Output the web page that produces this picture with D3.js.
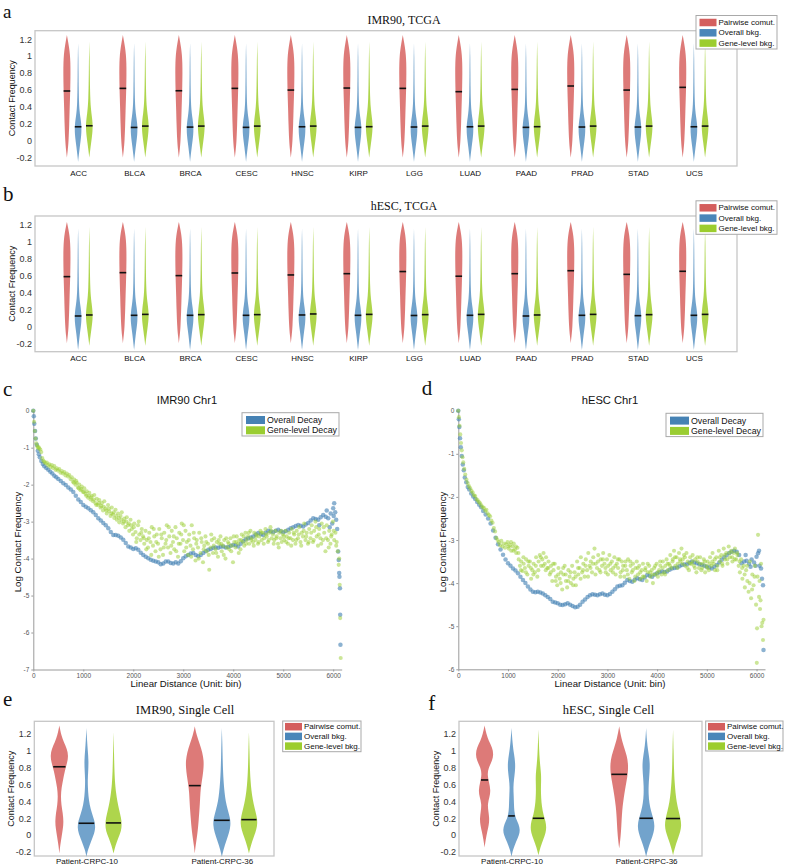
<!DOCTYPE html>
<html><head><meta charset="utf-8">
<script src="https://cdn.jsdelivr.net/npm/d3@7"></script>
<style>body{margin:0;background:#fff}svg{display:block}</style>
</head><body>
<svg id="fig" width="787" height="868"></svg>
<script>
// ---------------- DATA ----------------
const tcgaCancers = ["ACC","BLCA","BRCA","CESC","HNSC","KIRP","LGG","LUAD","PAAD","PRAD","STAD","UCS"];
const seriesNames = ["Pairwise comut.","Overall bkg.","Gene-level bkg."];
const violinTicks = [-0.2,0,0.2,0.4,0.6,0.8,1,1.2];

// medians (panel a: IMR90, TCGA)
const imr90PairwiseMed = [0.587,0.618,0.59,0.618,0.598,0.622,0.618,0.579,0.606,0.646,0.598,0.63];
const imr90OverallMed  = [0.164,0.156,0.16,0.157,0.164,0.157,0.161,0.164,0.157,0.161,0.161,0.164];
const imr90GeneMed     = [0.176,0.172,0.172,0.172,0.172,0.165,0.172,0.172,0.165,0.172,0.172,0.172];
// medians (panel b: hESC, TCGA)
const hescPairwiseMed = [0.585,0.632,0.597,0.628,0.605,0.62,0.645,0.59,0.62,0.655,0.612,0.648];
const hescOverallMed  = [0.121,0.129,0.129,0.129,0.133,0.129,0.127,0.129,0.121,0.129,0.125,0.129];
const hescGeneMed     = [0.133,0.14,0.137,0.137,0.145,0.14,0.137,0.14,0.133,0.14,0.137,0.14];

// density profiles [value, relative width]
const imr90PairShape = [[-0.2,0],[-0.12,0.22],[0,0.48],[0.2,0.65],[0.35,0.74],[0.5,0.86],[0.65,0.95],[0.8,1],[0.92,0.97],[1.02,0.85],[1.1,0.6],[1.18,0.3],[1.25,0]];
const imr90OverallShape = [[-0.25,0],[-0.17,0.2],[-0.08,0.45],[0,0.7],[0.07,0.88],[0.14,0.95],[0.21,0.85],[0.28,0.6],[0.36,0.38],[0.45,0.25],[0.6,0.17],[0.8,0.12],[1.0,0.08],[1.15,0]];
const imr90GeneShape = [[-0.2,0],[-0.12,0.22],[-0.03,0.5],[0.05,0.75],[0.12,0.9],[0.18,0.95],[0.25,0.82],[0.32,0.6],[0.4,0.4],[0.5,0.27],[0.65,0.18],[0.85,0.12],[1.0,0.08],[1.17,0]];
const hescPairShape = [[-0.2,0],[-0.12,0.22],[0,0.48],[0.2,0.65],[0.35,0.74],[0.5,0.86],[0.65,0.95],[0.8,1],[0.92,0.97],[1.02,0.85],[1.1,0.6],[1.17,0.3],[1.23,0]];
const hescOverallShape = [[-0.28,0],[-0.2,0.2],[-0.1,0.45],[-0.02,0.72],[0.05,0.9],[0.11,0.95],[0.18,0.85],[0.25,0.6],[0.33,0.38],[0.42,0.25],[0.58,0.17],[0.8,0.12],[1.0,0.08],[1.15,0]];
const hescGeneShape = [[-0.23,0],[-0.15,0.22],[-0.06,0.5],[0.02,0.75],[0.08,0.9],[0.14,0.95],[0.21,0.82],[0.28,0.6],[0.36,0.4],[0.46,0.27],[0.62,0.18],[0.85,0.12],[1.0,0.08],[1.17,0]];

// single cell
const patients = ["Patient-CRPC-10","Patient-CRPC-36"];
const imr90ScPairMed = [0.81,0.586];
const imr90ScOverallMed = [0.139,0.174];
const imr90ScGeneMed = [0.143,0.182];
const hescScPairMed = [0.653,0.72];
const hescScOverallMed = [0.226,0.198];
const hescScGeneMed = [0.198,0.195];

const imr90ScPairShapes = [
  [[-0.22,0],[-0.12,0.1],[-0.02,0.25],[0.08,0.4],[0.16,0.47],[0.26,0.38],[0.36,0.22],[0.46,0.16],[0.56,0.24],[0.66,0.42],[0.76,0.6],[0.86,0.88],[0.94,1],[1.02,0.85],[1.1,0.5],[1.18,0.22],[1.3,0]],
  [[-0.22,0],[-0.12,0.1],[-0.02,0.25],[0.1,0.38],[0.2,0.45],[0.3,0.52],[0.4,0.58],[0.5,0.62],[0.6,0.72],[0.7,0.88],[0.8,0.98],[0.88,1],[0.98,0.85],[1.08,0.55],[1.18,0.22],[1.29,0]]
];
const imr90ScOverallShapes = [
  [[-0.26,0],[-0.18,0.15],[-0.08,0.5],[0.02,0.88],[0.09,1],[0.17,0.9],[0.26,0.6],[0.36,0.35],[0.46,0.22],[0.56,0.16],[0.66,0.14],[0.76,0.2],[0.88,0.24],[1.0,0.15],[1.12,0.07],[1.27,0]],
  [[-0.26,0],[-0.17,0.18],[-0.07,0.5],[0.03,0.82],[0.12,0.98],[0.2,0.92],[0.3,0.65],[0.4,0.42],[0.5,0.3],[0.62,0.2],[0.78,0.12],[0.95,0.08],[1.1,0.05],[1.27,0]]
];
const imr90ScGeneShapes = [
  [[-0.22,0],[-0.13,0.2],[-0.03,0.55],[0.05,0.85],[0.12,0.92],[0.2,0.85],[0.3,0.62],[0.4,0.42],[0.5,0.28],[0.6,0.18],[0.75,0.1],[0.95,0.06],[1.22,0]],
  [[-0.22,0],[-0.13,0.2],[-0.03,0.52],[0.06,0.82],[0.14,0.95],[0.22,0.88],[0.32,0.62],[0.42,0.42],[0.52,0.28],[0.65,0.17],[0.8,0.1],[1.0,0.06],[1.22,0]]
];
const hescScPairShapes = [
  [[-0.15,0],[-0.06,0.12],[0.04,0.3],[0.12,0.48],[0.2,0.53],[0.28,0.42],[0.37,0.33],[0.45,0.55],[0.53,0.68],[0.62,0.5],[0.72,0.3],[0.8,0.45],[0.88,0.85],[0.96,1],[1.04,0.85],[1.12,0.45],[1.2,0.2],[1.3,0]],
  [[-0.16,0],[-0.06,0.12],[0.04,0.2],[0.14,0.25],[0.24,0.3],[0.34,0.38],[0.44,0.5],[0.54,0.65],[0.64,0.82],[0.74,0.97],[0.84,1],[0.94,0.85],[1.04,0.55],[1.14,0.25],[1.29,0]]
];
const hescScOverallShapes = [
  [[-0.26,0],[-0.18,0.15],[-0.08,0.5],[0.0,0.85],[0.06,0.95],[0.13,0.8],[0.2,0.45],[0.28,0.3],[0.38,0.27],[0.48,0.24],[0.57,0.2],[0.66,0.27],[0.76,0.4],[0.86,0.42],[0.96,0.28],[1.08,0.12],[1.27,0]],
  [[-0.26,0],[-0.17,0.18],[-0.07,0.52],[0.03,0.85],[0.11,0.95],[0.19,0.82],[0.28,0.55],[0.38,0.35],[0.48,0.27],[0.58,0.27],[0.68,0.33],[0.8,0.42],[0.9,0.38],[1.0,0.22],[1.12,0.08],[1.27,0]]
];
const hescScGeneShapes = [
  [[-0.24,0],[-0.15,0.2],[-0.05,0.55],[0.03,0.82],[0.09,0.88],[0.16,0.8],[0.24,0.55],[0.34,0.38],[0.44,0.3],[0.54,0.27],[0.64,0.3],[0.72,0.3],[0.82,0.2],[0.95,0.1],[1.1,0.05],[1.25,0]],
  [[-0.24,0],[-0.15,0.2],[-0.05,0.52],[0.04,0.82],[0.11,0.92],[0.19,0.85],[0.29,0.6],[0.39,0.4],[0.5,0.27],[0.62,0.18],[0.78,0.1],[1.0,0.06],[1.25,0]]
];

// distance decay  [bin, log contact frequency]
const decayNames = ["Overall Decay","Gene-level Decay"];
const decayXTicks = [0,1000,2000,3000,4000,5000,6000];
const imr90YTicks = [0,-1,-2,-3,-4,-5,-6,-7];
const hescYTicks = [0,-1,-2,-3,-4,-5,-6];

const imr90Overall = [[0,0],[10,-0.15],[20,-0.35],[35,-0.55],[50,-0.75],[70,-0.92],[90,-1.08],[110,-1.18],[130,-1.26],[160,-1.36],[190,-1.44],[220,-1.5],[260,-1.55],[300,-1.6],[340,-1.65],[380,-1.7],[420,-1.76],[460,-1.8],[500,-1.85],[550,-1.9],[600,-1.96],[650,-2.01],[700,-2.08],[750,-2.13],[800,-2.2],[850,-2.3],[900,-2.4],[950,-2.47],[1000,-2.55],[1050,-2.6],[1100,-2.64],[1150,-2.69],[1200,-2.75],[1250,-2.82],[1300,-2.91],[1350,-2.97],[1400,-3.04],[1450,-3.1],[1500,-3.18],[1550,-3.28],[1600,-3.36],[1650,-3.36],[1700,-3.38],[1750,-3.43],[1800,-3.49],[1850,-3.58],[1900,-3.67],[1950,-3.7],[2000,-3.74],[2050,-3.72],[2100,-3.76],[2150,-3.84],[2200,-3.9],[2250,-3.95],[2300,-3.99],[2350,-4.03],[2400,-4.06],[2450,-4.08],[2500,-4.1],[2550,-4.15],[2600,-4.13],[2650,-4.08],[2700,-4.08],[2750,-4.12],[2800,-4.13],[2850,-4.1],[2900,-4.13],[2950,-4.07],[3000,-3.99],[3050,-3.94],[3100,-3.9],[3150,-3.86],[3200,-3.85],[3250,-3.9],[3300,-3.94],[3350,-3.9],[3400,-3.85],[3450,-3.8],[3500,-3.76],[3550,-3.74],[3600,-3.71],[3650,-3.7],[3700,-3.71],[3750,-3.68],[3800,-3.67],[3850,-3.7],[3900,-3.69],[3950,-3.65],[4000,-3.63],[4050,-3.64],[4100,-3.67],[4150,-3.6],[4200,-3.53],[4250,-3.48],[4300,-3.45],[4350,-3.43],[4400,-3.4],[4450,-3.35],[4500,-3.31],[4550,-3.34],[4600,-3.36],[4650,-3.3],[4700,-3.25],[4750,-3.27],[4800,-3.29],[4850,-3.25],[4900,-3.22],[4950,-3.26],[5000,-3.29],[5050,-3.26],[5100,-3.22],[5150,-3.18],[5200,-3.15],[5250,-3.12],[5300,-3.09],[5350,-3.11],[5400,-3.13],[5450,-3.08],[5500,-3.04],[5550,-2.97],[5600,-2.91],[5650,-2.93],[5700,-2.95],[5720,-3.1],[5750,-2.88],[5800,-2.82],[5850,-2.87],[5870,-2.7],[5900,-2.91],[5930,-3.15],[5950,-2.78],[5980,-3.05],[6000,-2.64],[6010,-2.85],[6020,-2.5],[6040,-2.75],[6060,-2.95],[6080,-3.2],[6100,-3.81],[6110,-4.04],[6120,-4.39],[6125,-4.49],[6135,-4.8],[6140,-5.52],[6145,-6.33]];

const imr90Gene = [[0,0],[15,-0.3],[30,-0.55],[45,-0.75],[60,-0.88],[75,-0.95],[90,-1.0],[105,-0.98],[120,-1.02],[140,-1.05],[160,-1.12],[180,-1.28],[200,-1.35],[220,-1.38],[245,-1.42],[270,-1.4],[295,-1.48],[320,-1.45],[345,-1.52],[370,-1.47],[395,-1.55],[420,-1.5],[445,-1.6],[470,-1.56],[495,-1.62],[520,-1.58],[545,-1.68],[570,-1.63],[595,-1.7],[620,-1.66],[645,-1.75],[670,-1.7],[695,-1.78],[720,-1.74],[745,-1.85],[770,-1.8],[795,-1.92],[820,-1.86],[845,-2.0],[870,-1.95],[895,-2.08],[920,-2.0],[945,-2.15],[970,-2.05],[995,-2.2],[1020,-2.1],[1045,-2.25],[1070,-2.18],[1095,-2.35],[1120,-2.22],[1145,-2.4],[1170,-2.3],[1195,-2.45],[1220,-2.28],[1245,-2.5],[1270,-2.38],[1295,-2.55],[1320,-2.42],[1345,-2.62],[1370,-2.5],[1395,-2.7],[1420,-2.45],[1445,-2.65],[1470,-2.78],[1495,-2.55],[1520,-2.72],[1545,-2.85],[1570,-2.62],[1595,-2.8],[1620,-2.9],[1645,-2.68],[1670,-2.95],[1695,-2.78],[1720,-3.02],[1745,-2.85],[1770,-2.75],[1795,-3.05],[1820,-2.92],[1845,-3.15],[1870,-2.88],[1895,-3.1],[1920,-3.25],[1945,-2.95],[1970,-3.2],[1995,-3.35],[2020,-3.05],[2045,-3.28],[2070,-3.45],[2095,-3.1],[2120,-3.35],[2145,-3.5],[2170,-3.2],[2195,-3.4],[2220,-3.6],[2245,-3.25],[2270,-3.5],[2295,-3.7],[2320,-3.3],[2345,-3.55],[2370,-3.15],[2395,-3.65],[2420,-3.4],[2445,-3.8],[2470,-3.35],[2495,-3.6],[2520,-3.2],[2545,-3.75],[2570,-3.45],[2595,-3.9],[2620,-3.3],[2645,-3.6],[2670,-3.1],[2695,-3.7],[2720,-3.4],[2745,-3.85],[2770,-3.25],[2795,-3.55],[2820,-3.75],[2845,-3.15],[2870,-3.45],[2895,-3.95],[2920,-3.3],[2945,-3.6],[2970,-3.05],[2995,-3.5],[3020,-3.8],[3045,-3.25],[3070,-3.55],[3095,-3.9],[3120,-3.35],[3145,-3.65],[3170,-3.1],[3195,-3.75],[3220,-3.45],[3245,-4.05],[3270,-3.5],[3295,-3.7],[3320,-3.3],[3345,-3.85],[3370,-3.55],[3395,-4.1],[3420,-3.65],[3445,-3.4],[3470,-3.8],[3495,-3.6],[3520,-4.3],[3545,-3.7],[3570,-3.5],[3595,-3.85],[3620,-3.45],[3645,-3.75],[3670,-3.55],[3695,-3.95],[3720,-3.6],[3745,-3.4],[3770,-3.8],[3795,-3.65],[3820,-3.5],[3845,-4.0],[3870,-3.7],[3895,-3.55],[3920,-3.75],[3945,-3.45],[3970,-3.65],[3995,-4.1],[4020,-3.55],[4045,-3.7],[4070,-3.4],[4095,-3.6],[4120,-3.5],[4145,-3.75],[4170,-3.35],[4195,-3.55],[4220,-3.65],[4245,-3.3],[4270,-3.5],[4295,-3.4],[4320,-3.6],[4345,-3.25],[4370,-3.45],[4395,-3.55],[4420,-3.3],[4445,-3.5],[4470,-3.35],[4495,-3.6],[4520,-3.4],[4545,-3.25],[4570,-3.5],[4595,-3.3],[4620,-3.45],[4645,-3.2],[4670,-3.4],[4695,-3.55],[4720,-3.3],[4745,-3.15],[4770,-3.45],[4795,-3.35],[4820,-3.5],[4845,-3.25],[4870,-3.4],[4895,-3.6],[4920,-3.3],[4945,-3.45],[4970,-3.55],[4995,-3.35],[5020,-3.5],[5045,-3.25],[5070,-3.4],[5095,-3.6],[5120,-3.3],[5145,-3.45],[5170,-3.2],[5195,-3.5],[5220,-3.35],[5245,-3.6],[5270,-3.25],[5295,-3.45],[5320,-3.15],[5345,-3.55],[5370,-3.3],[5395,-3.4],[5420,-3.05],[5445,-3.5],[5470,-3.3],[5495,-3.6],[5520,-3.2],[5545,-3.45],[5570,-3.1],[5595,-3.55],[5620,-3.25],[5645,-3.0],[5670,-3.4],[5695,-3.65],[5720,-3.2],[5745,-3.45],[5770,-3.05],[5795,-3.5],[5820,-3.3],[5845,-3.8],[5870,-3.1],[5895,-3.5],[5920,-3.25],[5945,-3.6],[5970,-3.35],[5995,-3.0],[6020,-3.5],[6045,-3.3],[6070,-3.55],[6090,-3.8],[6110,-4.17],[6120,-4.0],[6130,-4.71],[6140,-5.61],[6150,-6.69],
[810,-1.95],[860,-1.9],[910,-2.1],[960,-2.12],[1010,-2.2],[1060,-2.3],[1110,-2.3],[1160,-2.35],[1210,-2.4],[1260,-2.55],[1310,-2.5],[1360,-2.58],[1410,-2.6],[1460,-2.7],[1510,-2.65],[1560,-2.78],[1610,-2.75],[1660,-2.85],[1710,-2.9],[1760,-2.95],[1810,-3.0],[1860,-3.0],[1910,-3.05],[1960,-3.1],
[2010,-3.15],[2060,-3.55],[2110,-3.0],[2160,-3.3],[2210,-3.45],[2260,-3.75],[2310,-3.45],[2360,-3.9],[2410,-3.2],[2460,-3.55],[2510,-3.95],[2560,-3.35],[2610,-3.7],[2660,-3.5],[2710,-3.15],[2760,-3.65],[2810,-3.4],[2860,-3.8],[2910,-3.6],[2960,-3.35],[3010,-3.1],[3060,-3.7],[3110,-3.5],[3160,-3.95],[3210,-3.3],[3260,-3.6],[3310,-4.0],[3360,-3.45],[3410,-3.75],[3460,-3.55],[3510,-3.9],[3560,-3.35],[3610,-3.65],[3660,-3.85],[3710,-3.5],[3760,-3.6],[3810,-3.9],[3860,-3.45],[3910,-3.6],[3960,-3.8],[4010,-3.4],[4060,-3.55],[4110,-3.85],[4160,-3.5],[4210,-3.4],[4260,-3.6],[4310,-3.3],[4360,-3.5],[4410,-3.65],[4460,-3.4],[4510,-3.55],[4560,-3.3],[4610,-3.6],[4660,-3.35],[4710,-3.5],[4760,-3.25],[4810,-3.6],[4860,-3.45],[4910,-3.7],[4960,-3.25],[5010,-3.4],[5060,-3.55],[5110,-3.45],[5160,-3.65],[5210,-3.3],[5260,-3.5],[5310,-3.35],[5360,-3.65],[5410,-3.25],[5460,-3.4],[5510,-3.55],[5560,-3.3],[5610,-3.5],[5660,-3.15],[5710,-3.35],[5760,-3.6],[5810,-3.15],[5860,-3.45],[5910,-3.7],[5960,-3.4],[6010,-3.25],[6060,-3.65]];

const hescOverall = [[0,0],[10,-0.2],[20,-0.38],[35,-0.64],[50,-0.85],[70,-1.05],[90,-1.25],[110,-1.38],[130,-1.55],[160,-1.66],[190,-1.77],[220,-1.83],[260,-1.92],[300,-1.99],[340,-2.05],[380,-2.12],[420,-2.18],[460,-2.24],[500,-2.33],[550,-2.41],[600,-2.5],[650,-2.62],[700,-2.78],[750,-2.95],[800,-3.1],[850,-3.22],[900,-3.34],[950,-3.45],[1000,-3.54],[1050,-3.6],[1100,-3.66],[1150,-3.71],[1200,-3.77],[1250,-3.85],[1300,-3.93],[1350,-4.0],[1400,-4.08],[1450,-4.15],[1500,-4.2],[1550,-4.21],[1600,-4.2],[1650,-4.22],[1700,-4.24],[1750,-4.28],[1800,-4.32],[1850,-4.37],[1900,-4.43],[1950,-4.45],[2000,-4.47],[2050,-4.5],[2100,-4.51],[2150,-4.49],[2200,-4.47],[2250,-4.5],[2300,-4.53],[2350,-4.56],[2400,-4.55],[2450,-4.5],[2500,-4.43],[2550,-4.38],[2600,-4.32],[2650,-4.28],[2700,-4.26],[2750,-4.27],[2800,-4.28],[2850,-4.26],[2900,-4.24],[2950,-4.27],[3000,-4.28],[3050,-4.25],[3100,-4.2],[3150,-4.14],[3200,-4.08],[3250,-4.06],[3300,-4.05],[3350,-3.99],[3400,-3.93],[3450,-3.95],[3500,-3.97],[3550,-3.92],[3600,-3.89],[3650,-3.91],[3700,-3.93],[3750,-3.87],[3800,-3.81],[3850,-3.83],[3900,-3.85],[3950,-3.8],[4000,-3.77],[4050,-3.75],[4100,-3.73],[4150,-3.74],[4200,-3.73],[4250,-3.69],[4300,-3.66],[4350,-3.65],[4400,-3.64],[4450,-3.61],[4500,-3.58],[4550,-3.57],[4600,-3.56],[4650,-3.53],[4700,-3.5],[4750,-3.52],[4800,-3.54],[4850,-3.56],[4900,-3.58],[4950,-3.6],[5000,-3.62],[5050,-3.64],[5100,-3.66],[5150,-3.62],[5200,-3.58],[5250,-3.52],[5300,-3.46],[5350,-3.4],[5400,-3.35],[5450,-3.3],[5500,-3.27],[5550,-3.25],[5600,-3.27],[5650,-3.35],[5700,-3.54],[5750,-3.5],[5780,-3.35],[5800,-3.48],[5850,-3.55],[5880,-3.62],[5900,-3.45],[5950,-3.52],[5980,-3.6],[6000,-3.39],[6030,-3.31],[6050,-3.25],[6060,-3.6],[6090,-3.66],[6110,-3.9],[6130,-4.05],[6140,-5.55]];

const hescGene = [[0,0],[12,-0.15],[25,-0.35],[40,-0.55],[55,-0.75],[70,-0.92],[85,-1.08],[100,-1.2],[120,-1.35],[140,-1.48],[165,-1.6],[190,-1.68],[215,-1.75],[240,-1.8],[265,-1.86],[290,-1.9],[315,-1.96],[340,-1.98],[365,-2.05],[390,-2.08],[415,-2.12],[440,-2.15],[465,-2.2],[490,-2.24],[515,-2.25],[540,-2.32],[565,-2.3],[590,-2.38],[615,-2.42],[640,-2.45],[665,-2.55],[690,-2.6],[715,-2.72],[740,-2.8],[765,-2.95],[790,-3.0],[815,-3.05],[840,-3.12],[865,-3.02],[890,-3.15],[915,-3.08],[940,-3.18],[965,-3.1],[990,-3.05],[1015,-3.2],[1040,-3.12],[1065,-3.25],[1090,-3.15],[1115,-3.08],[1140,-3.22],[1165,-3.3],[1190,-3.18],[1215,-3.45],[1240,-3.6],[1265,-3.5],[1290,-3.72],[1315,-3.55],[1340,-3.65],[1365,-3.45],[1390,-3.8],[1415,-3.6],[1440,-3.5],[1465,-3.9],[1490,-3.7],[1515,-3.55],[1540,-3.75],[1565,-3.4],[1590,-3.85],[1615,-3.5],[1640,-3.35],[1665,-3.6],[1690,-3.45],[1715,-3.3],[1740,-3.55],[1765,-3.4],[1790,-3.65],[1815,-3.5],[1840,-3.8],[1865,-3.6],[1890,-3.95],[1915,-3.7],[1940,-3.55],[1965,-3.85],[1990,-4.05],[2015,-3.65],[2040,-3.9],[2065,-3.75],[2090,-4.15],[2115,-3.8],[2140,-3.6],[2165,-3.95],[2190,-4.1],[2215,-3.7],[2240,-3.85],[2265,-4.0],[2290,-3.6],[2315,-3.9],[2340,-3.75],[2365,-4.05],[2390,-3.5],[2415,-3.8],[2440,-3.65],[2465,-3.4],[2490,-3.75],[2515,-3.55],[2540,-3.85],[2565,-3.45],[2590,-3.7],[2615,-3.3],[2640,-3.6],[2665,-3.5],[2690,-3.75],[2715,-3.4],[2740,-3.2],[2765,-3.55],[2790,-3.65],[2815,-3.35],[2840,-3.7],[2865,-3.45],[2890,-3.6],[2915,-3.3],[2940,-3.55],[2965,-3.75],[2990,-3.45],[3015,-3.6],[3040,-3.35],[3065,-3.7],[3090,-3.5],[3115,-3.65],[3140,-3.4],[3165,-3.8],[3190,-3.55],[3215,-3.65],[3240,-3.45],[3265,-3.75],[3290,-3.5],[3315,-3.6],[3340,-3.85],[3365,-3.5],[3390,-3.7],[3415,-3.45],[3440,-3.9],[3465,-3.6],[3490,-3.75],[3515,-3.55],[3540,-3.95],[3565,-3.65],[3590,-3.5],[3615,-3.8],[3640,-3.6],[3665,-3.9],[3690,-3.7],[3715,-3.55],[3740,-3.85],[3765,-3.65],[3790,-3.95],[3815,-3.75],[3840,-3.6],[3865,-3.85],[3890,-3.7],[3915,-4.0],[3940,-3.65],[3965,-3.8],[3990,-3.55],[4015,-3.85],[4040,-3.7],[4065,-3.6],[4090,-3.8],[4115,-3.5],[4140,-3.75],[4165,-3.6],[4190,-3.45],[4215,-3.7],[4240,-3.55],[4265,-3.35],[4290,-3.65],[4315,-3.45],[4340,-3.25],[4365,-3.6],[4390,-3.4],[4415,-3.55],[4440,-3.3],[4465,-3.5],[4490,-3.2],[4515,-3.45],[4540,-3.35],[4565,-3.6],[4590,-3.3],[4615,-3.5],[4640,-3.7],[4665,-3.4],[4690,-3.55],[4715,-3.35],[4740,-3.6],[4765,-3.45],[4790,-3.75],[4815,-3.5],[4840,-3.65],[4865,-3.4],[4890,-3.7],[4915,-3.55],[4940,-3.45],[4965,-3.75],[4990,-3.6],[5015,-3.5],[5040,-3.7],[5065,-3.4],[5090,-3.6],[5115,-3.3],[5140,-3.55],[5165,-3.7],[5190,-3.4],[5215,-3.6],[5240,-3.25],[5265,-3.5],[5290,-3.35],[5315,-3.6],[5340,-3.2],[5365,-3.45],[5390,-3.3],[5415,-3.55],[5440,-3.15],[5465,-3.4],[5490,-3.25],[5515,-3.5],[5540,-3.3],[5565,-3.2],[5590,-3.45],[5615,-3.35],[5640,-3.6],[5665,-3.75],[5690,-3.45],[5715,-3.9],[5740,-3.6],[5765,-4.1],[5790,-3.7],[5815,-3.95],[5840,-4.2],[5865,-3.5],[5890,-4.35],[5915,-3.8],[5940,-4.05],[5965,-3.6],[5990,-4.5],[6005,-5.85],[6010,-5.05],[6020,-3.85],[6030,-2.88],[6050,-4.32],[6070,-4.6],[6090,-3.55],[6100,-5.0],[6115,-4.92],[6130,-5.32],[6140,-4.85],
[1010,-3.15],[1060,-3.05],[1110,-3.25],[1160,-3.15],[1210,-3.3],[1260,-3.7],[1310,-3.4],[1360,-3.75],[1410,-3.5],[1460,-3.65],[1510,-3.8],[1560,-3.6],[1610,-3.7],[1660,-3.4],[1710,-3.6],[1760,-3.7],[1810,-3.65],[1860,-3.75],[1910,-3.55],[1960,-3.95],[2010,-3.8],[2060,-4.0],[2110,-3.65],[2160,-3.8],[2210,-3.95],[2260,-3.75],[2310,-4.05],[2360,-3.85],[2410,-3.65],[2460,-3.9],[2510,-3.7],[2560,-3.6],[2610,-3.85],[2660,-3.65],[2710,-3.55],[2760,-3.8],[2810,-3.5],[2860,-3.75],[2910,-3.45],[2960,-3.65],[3010,-3.8],[3060,-3.55],[3110,-3.75],[3160,-3.6],[3210,-3.45],[3260,-3.85],[3310,-3.7],[3360,-3.6],[3410,-3.8],[3460,-3.5],[3510,-3.7],[3560,-3.85],[3610,-3.65],[3660,-3.75],[3710,-3.85],[3760,-3.7],[3810,-3.55],[3860,-3.75],[3910,-3.8],[3960,-3.6],[4010,-3.75],[4060,-3.5],[4110,-3.65],[4160,-3.8],[4210,-3.55],[4260,-3.6],[4310,-3.5],[4360,-3.4],[4410,-3.65],[4460,-3.45],[4510,-3.55],[4560,-3.4],[4610,-3.65],[4660,-3.55],[4710,-3.5],[4760,-3.65],[4810,-3.4],[4860,-3.55],[4910,-3.65],[4960,-3.5],[5010,-3.65],[5060,-3.55],[5110,-3.5],[5160,-3.45],[5210,-3.7],[5260,-3.4],[5310,-3.55],[5360,-3.35],[5410,-3.45],[5460,-3.3],[5510,-3.4],[5560,-3.45],[5610,-3.3],[5660,-3.5],[5710,-3.65],[5760,-3.8],[5810,-3.6],[5860,-4.0],[5910,-4.15],[5960,-3.85],[6060,-3.95],[6080,-4.4]];

// ---------------- DRAWING ----------------
const svg = d3.select("#fig");
const SANS = "'Liberation Sans', Arial, Helvetica, sans-serif";
const SERIF = "'Liberation Serif', 'Times New Roman', Times, serif";
const violinFill = ["#db7371", "#6a9ec9", "#aad342"];
const legendFill = ["#d45e5d", "#4a86b9", "#9ccd2e"];
const seriesOffset = [-0.2, 0, 0.2];

function widthAt(shape, v) {
  for (let k = 1; k < shape.length; k++) {
    if (v <= shape[k][0]) {
      const a = shape[k-1], b = shape[k];
      const t = (v - a[0]) / (b[0] - a[0]);
      return a[1] + t * (b[1] - a[1]);
    }
  }
  return 0;
}

function drawLegend(o) {
  const g = svg.append("g");
  g.append("rect").attr("x", o.x).attr("y", o.y).attr("width", o.w).attr("height", o.h)
    .attr("fill", "#fff").attr("stroke", "#a9a9a9").attr("stroke-width", 1);
  o.labels.forEach((lab, i) => {
    const cy = o.y + o.first + i * o.step;
    g.append("rect").attr("x", o.x + o.pad).attr("y", cy - o.ph / 2).attr("width", o.pw).attr("height", o.ph)
      .attr("fill", o.colors[i]);
    g.append("text").attr("x", o.x + o.pad + o.pw + 2).attr("y", cy).attr("dominant-baseline", "central")
      .attr("font-family", SANS).attr("font-size", o.fs).attr("fill", "#111").text(lab);
  });
}

function drawViolinPanel(o) {
  const g = svg.append("g");
  const x = d3.scaleLinear().domain(o.xDomain).range([o.box.x0, o.box.x1]);
  const y = d3.scaleLinear().domain(o.yDomain || [-0.3, 1.3]).range([o.box.y1, o.box.y0]);
  g.append("rect").attr("x", o.box.x0).attr("y", o.box.y0)
    .attr("width", o.box.x1 - o.box.x0).attr("height", o.box.y1 - o.box.y0)
    .attr("fill", "none").attr("stroke", "#c6c6c6").attr("stroke-width", 1.3);
  const ya = g.append("g").attr("transform", `translate(${o.box.x0},0)`)
    .call(d3.axisLeft(y).tickValues(violinTicks).tickSize(0).tickPadding(3).tickFormat(d => String(d)));
  ya.select(".domain").remove();
  ya.selectAll("text").attr("font-family", SANS).attr("font-size", 9).attr("fill", "#333");
  const xa = g.append("g").attr("transform", `translate(0,${o.box.y1})`)
    .call(d3.axisBottom(x).tickValues(o.categories.map((c, i) => i + 1)).tickSize(0).tickPadding(o.catPad)
      .tickFormat((d) => o.categories[d - 1]));
  xa.select(".domain").remove();
  xa.selectAll("text").attr("font-family", SANS).attr("font-size", o.catFs).attr("fill", "#111");

  o.categories.forEach((cat, i) => {
    [0, 1, 2].forEach(s => {
      const perCat = Array.isArray(o.shapes[s][0][0]);
      const shp = perCat ? o.shapes[s][i] : o.shapes[s];
      const cx = x(i + 1 + seriesOffset[s]);
      const area = d3.area().curve(d3.curveBasis)
        .y(d => y(d[0])).x0(d => cx - d[1] * o.hw).x1(d => cx + d[1] * o.hw);
      g.append("path").attr("d", area(shp)).attr("fill", violinFill[s]).attr("fill-opacity", 0.95);
      const m = o.medians[s][i];
      const w = Math.max(widthAt(shp, m) * o.hw * 0.92, o.minMed);
      g.append("line").attr("x1", cx - w).attr("x2", cx + w).attr("y1", y(m)).attr("y2", y(m))
        .attr("stroke", "#111").attr("stroke-width", 1.6);
    });
  });
  g.append("text").attr("transform", `translate(${o.ylabX},${(o.box.y0 + o.box.y1) / 2}) rotate(-90)`)
    .attr("text-anchor", "middle").attr("dominant-baseline", "central")
    .attr("font-family", SANS).attr("font-size", 9).attr("fill", "#111").text("Contact Frequency");
  g.append("text").attr("x", o.titleX).attr("y", o.titleY).attr("text-anchor", "middle")
    .attr("font-family", SERIF).attr("font-size", o.titleFs).attr("fill", "#111").text(o.title);
}

function drawDecayPanel(o) {
  const g = svg.append("g");
  const x = d3.scaleLinear().domain([0, 6170]).range([o.x0, o.x1]);
  const y = d3.scaleLinear().domain([o.yTicks[o.yTicks.length - 1], 0]).range([o.yb, o.yt]);
  const ya = g.append("g").attr("transform", `translate(${o.x0},0)`)
    .call(d3.axisLeft(y).tickValues(o.yTicks).tickSize(2).tickSizeOuter(0).tickPadding(2).tickFormat(d => String(d)));
  const xa = g.append("g").attr("transform", `translate(0,${o.yb})`)
    .call(d3.axisBottom(x).tickValues(decayXTicks).tickSize(2).tickSizeOuter(0).tickPadding(2).tickFormat(d => String(d)));
  [ya, xa].forEach(a => {
    a.select(".domain").attr("stroke", "#9a9a9a");
    a.selectAll(".tick line").attr("stroke", "#9a9a9a");
    a.selectAll("text").attr("font-family", SANS).attr("font-size", 6.5).attr("fill", "#555");
  });
  const cols = ["#4682b4", "#9acd32"];
  [o.overall, o.gene].forEach((ser, s) => {
    g.append("g").selectAll("circle").data(ser).join("circle")
      .attr("cx", d => x(d[0])).attr("cy", d => y(d[1])).attr("r", s === 0 ? 2.25 : 2.05)
      .attr("fill", cols[s]).attr("fill-opacity", s === 0 ? 0.62 : 0.5);
  });
  g.append("text").attr("x", o.titleX).attr("y", 404).attr("text-anchor", "middle")
    .attr("font-family", SANS).attr("font-size", 11.2).attr("fill", "#111").text(o.title);
  g.append("text").attr("x", o.xlabX).attr("y", 686.5).attr("text-anchor", "middle")
    .attr("font-family", SANS).attr("font-size", 9.6).attr("fill", "#111").text("Linear Distance (Unit: bin)");
  g.append("text").attr("transform", `translate(${o.ylabX},542) rotate(-90)`)
    .attr("text-anchor", "middle").attr("dominant-baseline", "central")
    .attr("font-family", SANS).attr("font-size", 9.7).attr("fill", "#111").text("Log Contact Frequency");
}

// panel a
drawViolinPanel({
  box: {x0: 35, x1: 737, y0: 30.7, y1: 166}, xDomain: [0.23, 12.77],
  categories: tcgaCancers, shapes: [imr90PairShape, imr90OverallShape, imr90GeneShape],
  medians: [imr90PairwiseMed, imr90OverallMed, imr90GeneMed], hw: 3.6, minMed: 3.3,
  catPad: 4, catFs: 8, ylabX: 11.5, title: "IMR90, TCGA", titleX: 404, titleY: 24, titleFs: 12
});
// panel b
drawViolinPanel({
  box: {x0: 35, x1: 737, y0: 216, y1: 351.7}, xDomain: [0.23, 12.77],
  categories: tcgaCancers, shapes: [hescPairShape, hescOverallShape, hescGeneShape],
  medians: [hescPairwiseMed, hescOverallMed, hescGeneMed], hw: 3.6, minMed: 3.3,
  catPad: 4, catFs: 8, ylabX: 11.5, title: "hESC, TCGA", titleX: 404, titleY: 210, titleFs: 12
});
// panel e
drawViolinPanel({
  box: {x0: 34.3, x1: 274, y0: 721.3, y1: 856}, xDomain: [0.615, 2.385], yDomain: [-0.25, 1.35],
  categories: patients, shapes: [imr90ScPairShapes, imr90ScOverallShapes, imr90ScGeneShapes],
  medians: [imr90ScPairMed, imr90ScOverallMed, imr90ScGeneMed], hw: 9, minMed: 3,
  catPad: 2, catFs: 8, ylabX: 10.5, title: "IMR90, Single Cell", titleX: 185, titleY: 714, titleFs: 12.5
});
// panel f
drawViolinPanel({
  box: {x0: 459, x1: 702, y0: 721.3, y1: 856}, xDomain: [0.61, 2.415], yDomain: [-0.25, 1.35],
  categories: patients, shapes: [hescScPairShapes, hescScOverallShapes, hescScGeneShapes],
  medians: [hescScPairMed, hescScOverallMed, hescScGeneMed], hw: 9, minMed: 3,
  catPad: 2, catFs: 8, ylabX: 435.5, title: "hESC, Single Cell", titleX: 608.5, titleY: 714, titleFs: 12.5
});
// panel c, d
drawDecayPanel({x0: 33.3, x1: 341.7, yt: 410.7, yb: 669.5, yTicks: imr90YTicks,
  overall: imr90Overall, gene: imr90Gene, title: "IMR90 Chr1", titleX: 187, xlabX: 186, ylabX: 17.5});
drawDecayPanel({x0: 458.3, x1: 765, yt: 410.7, yb: 669.3, yTicks: hescYTicks,
  overall: hescOverall, gene: hescGene, title: "hESC Chr1", titleX: 610, xlabX: 610, ylabX: 442.3});

// legends
const vLeg = {w: 81, h: 33.5, first: 7, step: 10.3, pad: 3.5, pw: 17, ph: 7.5, fs: 8, labels: seriesNames, colors: legendFill};
drawLegend(Object.assign({}, vLeg, {x: 696, y: 15.5}));
drawLegend(Object.assign({}, vLeg, {x: 696, y: 200.8}));
drawLegend(Object.assign({}, vLeg, {x: 282.7, y: 721, w: 78.3, h: 30.7, first: 5.7, step: 9.7, pad: 2.3}));
drawLegend(Object.assign({}, vLeg, {x: 705.7, y: 721, w: 77.3, h: 30, first: 5.7, step: 9.7, pad: 2.3}));
const dLeg = {w: 97, h: 23.3, first: 7.3, step: 10.3, pad: 4, pw: 19, ph: 8, fs: 8.8, labels: decayNames, colors: ["#4682b4", "#9acd32"]};
drawLegend(Object.assign({}, dLeg, {x: 242, y: 412.7}));
drawLegend(Object.assign({}, dLeg, {x: 666, y: 413.3}));

// panel letters
const letters = [["a", 3, 18, 19], ["b", 3, 200.7, 21], ["c", 3, 396, 21], ["d", 421.7, 395.3, 21], ["e", 3, 706, 21], ["f", 428.3, 710, 21]];
svg.selectAll(".letter").data(letters).join("text").attr("class", "letter")
  .attr("x", d => d[1]).attr("y", d => d[2]).attr("font-family", SERIF).attr("font-size", d => d[3])
  .attr("fill", "#111").text(d => d[0]);
</script>
</body></html>
